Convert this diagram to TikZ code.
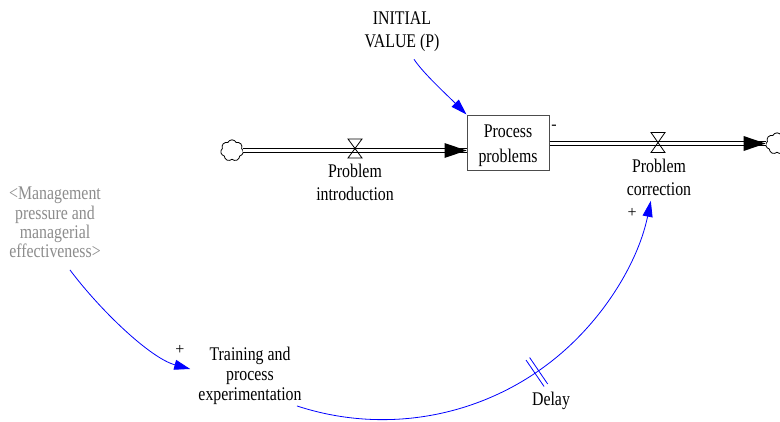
\documentclass[tikz,border=0pt]{standalone}
\usepackage{fontspec}
\setmainfont{Liberation Serif}
\usetikzlibrary{arrows.meta,shapes.symbols,calc}
\definecolor{linkblue}{RGB}{0,0,255}
\definecolor{shadowgray}{RGB}{140,140,140}
\newcommand{\narrow}[2][17.25]{\scalebox{0.82}[1]{\fontsize{14.5}{#1}\selectfont\begin{tabular}{@{}c@{}}#2\end{tabular}}}
\begin{document}
\begin{tikzpicture}[x=0.75pt,y=-0.75pt,
  lbl/.style={inner sep=0pt},
  sign/.style={font=\fontsize{12}{12}\selectfont, inner sep=0pt},
  stock/.style={draw=black!70, line width=0.75pt, minimum width=61.5pt,
    minimum height=41.25pt, inner sep=0pt},
  pipe/.style={draw=black, line width=0.75pt, double=white, double distance=2.25pt},
  source/.style={cloud, cloud puffs=7, cloud puff arc=130, aspect=1.05, draw=black,
    line width=0.6pt, minimum width=17pt, minimum height=16pt, inner sep=0pt},
  link/.style={draw=linkblue, line width=0.6pt,
    -{Triangle[length=12pt,width=7.5pt]}},
  valveshape/.style={draw=black, line width=0.6pt},
  delaymark/.style={draw=linkblue, line width=0.6pt},
]
\useasboundingbox (0,0) rectangle (780,421);

% stock
\node[stock] (box) at (508,142.5) {\raisebox{-2.2pt}[\height][\depth]{\narrow{Process\\[1.8pt]problems}}};

% source and sink clouds
\node[source] (cl) at (232,150.5) {};
\node[source] (cr) at (777,143.5) {};

% inflow pipe with its head
\coordinate (inend) at (cl.east -| box.west);
\draw[pipe] (cl.east) -- (inend);
\fill (inend) -- ++(-22,-7.5) -- ++(0,15) -- cycle;

% outflow pipe with its head
\coordinate (outstart) at (cr.west -| box.east);
\draw[pipe] (outstart) -- (cr.west);
\fill (cr.west) -- ++(-22,-7.5) -- ++(0,15) -- cycle;

% valves
\coordinate (vin) at (355,148.5);
\coordinate (vout) at (658,142.5);
\draw[valveshape] ($(vin)+(-7,-9.5)$) -- ($(vin)+(7,-9.5)$) -- ($(vin)+(-7,9.5)$) -- ($(vin)+(7,9.5)$) -- cycle;
\draw[valveshape] ($(vout)+(-7,-10)$) -- ($(vout)+(7,-10)$) -- ($(vout)+(-7,10)$) -- ($(vout)+(7,10)$) -- cycle;

% flow labels
\node[lbl] (fin) at (355,184) {\narrow{Problem\\introduction}};
\node[lbl] (fout) at (659,179.5) {\narrow{Problem\\correction}};

% auxiliaries
\node[lbl] (iv) at (402,31) {\narrow{INITIAL\\VALUE (P)}};
\node[lbl, text=shadowgray] (mp) at (55,225) {\narrow[14.5]{<Management\\pressure and\\managerial\\effectiveness>}};
\node[lbl] (tr) at (250,376) {\narrow[15]{Training and\\process\\experimentation}};

% links
\draw[link] ($(iv.south)+(12,5)$) .. controls (423,73) and (446,94) .. (box.north west);
\draw[link] ($(mp.south)+(15,6)$) .. controls (100,310) and (150,358) .. ($(tr.west)+(-8,-7)$);

% delayed link along a circular arc
\coordinate (arcc) at (382.5,145.75);
\draw[link] ($(arcc)+(108.2:273.9)$) arc[start angle=108.2, end angle=11.6, radius=273.9];

% delay marks
\coordinate (dm) at ($(arcc)+(55.7:273.9)$);
\draw[delaymark] ($(dm)+(55.7:-16)+(-34.3:2.2)$) -- ($(dm)+(55.7:16)+(-34.3:2.2)$);
\draw[delaymark] ($(dm)+(55.7:-16)+(-34.3:-2.2)$) -- ($(dm)+(55.7:16)+(-34.3:-2.2)$);
\node[lbl] (dl) at (551,401) {\narrow{Delay}};

% polarity signs
\node[sign] (s1) at (554,127) {-};
\node[sign] (s2) at (180,350) {+};
\node[sign] (s3) at (632,213) {+};
\end{tikzpicture}
\end{document}
